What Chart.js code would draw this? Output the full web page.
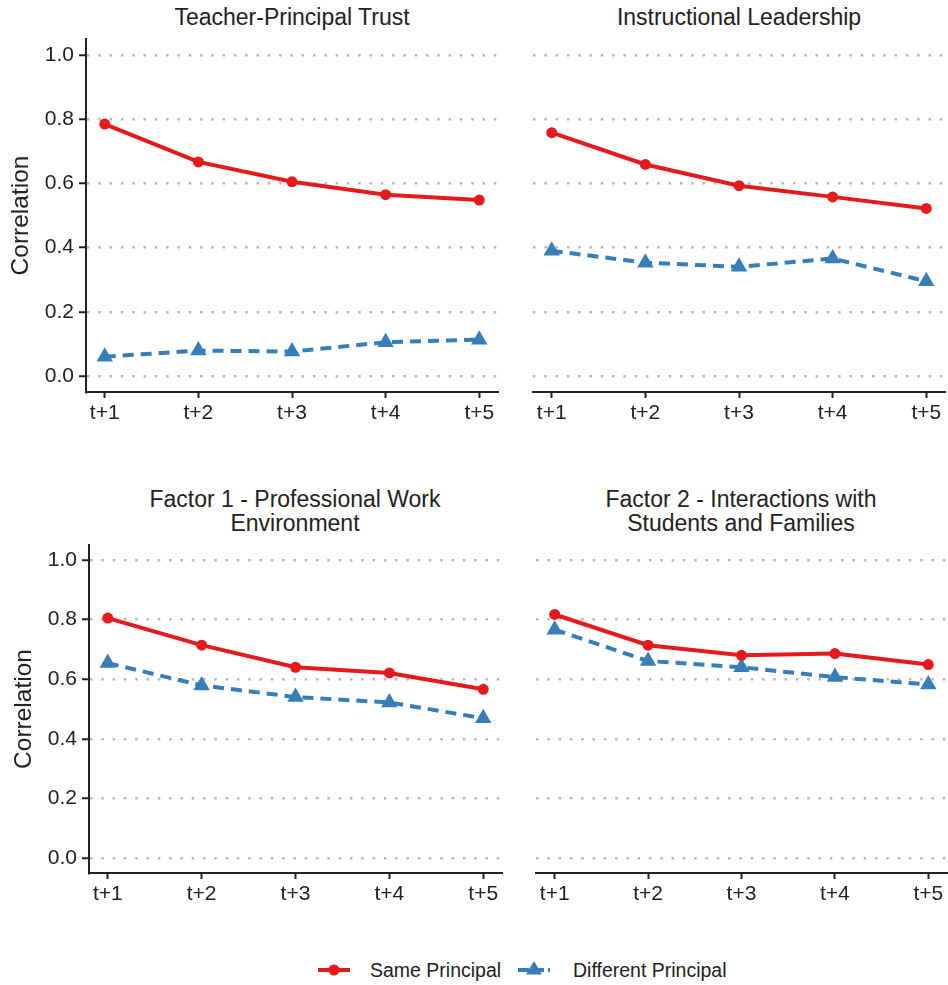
<!DOCTYPE html>
<html>
<head>
<meta charset="utf-8">
<script src="https://cdn.jsdelivr.net/npm/chart.js@4.4.1/dist/chart.umd.min.js"></script>
<style>
  body { margin: 0; background: #fff; width: 948px; height: 985px; position: relative; overflow: hidden;
         font-family: "Liberation Sans", Arial, sans-serif; }
  canvas { position: absolute; }
  .ttl { position: absolute; transform: translateX(-50%); text-align: center; white-space: nowrap;
         font-size: 23px; line-height: 24px; color: #222; }
  .leg { position: absolute; font-size: 19.5px; line-height: 22px; color: #222; white-space: nowrap; }
  svg { position: absolute; }
</style>
</head>
<body>
<div class="ttl" style="left:292px; top:5px;">Teacher-Principal Trust</div>
<div class="ttl" style="left:739px; top:5px;">Instructional Leadership</div>
<div class="ttl" style="left:295px; top:487px;">Factor 1 - Professional Work<br>Environment</div>
<div class="ttl" style="left:741px; top:487px;">Factor 2 - Interactions with<br>Students and Families</div>

<canvas id="c1" width="500" height="440" style="left:0; top:0;"></canvas>
<canvas id="c2" width="448" height="440" style="left:500px; top:0;"></canvas>
<canvas id="c3" width="504" height="440" style="left:0; top:480px;"></canvas>
<canvas id="c4" width="448" height="440" style="left:500px; top:480px;"></canvas>

<svg width="36" height="16" style="left:317px; top:962px;">
  <line x1="1" y1="8" x2="33" y2="8" stroke="#E41A1C" stroke-width="4"/>
  <circle cx="17" cy="8" r="5.5" fill="#E41A1C"/>
</svg>
<div class="leg" style="left:370px; top:959px;">Same Principal</div>
<svg width="36" height="20" style="left:517px; top:958px;">
  <line x1="1" y1="12" x2="33" y2="12" stroke="#377EB8" stroke-width="4" stroke-dasharray="11 4"/>
  <polygon points="17,3 25,16.6 9,16.6" fill="#377EB8"/>
</svg>
<div class="leg" style="left:573px; top:959px;">Different Principal</div>

<script>
const labels = ["t+1", "t+2", "t+3", "t+4", "t+5"];
const yTicks = [0, 0.2, 0.4, 0.6, 0.8, 1.0];
const seriesNames = ["Same Principal", "Different Principal"];

// Teacher-Principal Trust
const trustSame = [0.785, 0.667, 0.605, 0.565, 0.548];
const trustDiff = [0.060, 0.079, 0.076, 0.105, 0.113];
// Instructional Leadership
const leadSame = [0.758, 0.659, 0.593, 0.558, 0.522];
const leadDiff = [0.390, 0.353, 0.340, 0.366, 0.295];
// Factor 1 - Professional Work Environment
const f1Same = [0.805, 0.714, 0.640, 0.621, 0.566];
const f1Diff = [0.654, 0.579, 0.540, 0.522, 0.469];
// Factor 2 - Interactions with Students and Families
const f2Same = [0.817, 0.714, 0.680, 0.686, 0.649];
const f2Diff = [0.766, 0.661, 0.640, 0.607, 0.582];

const RED = "#E41A1C";
const BLUE = "#377EB8";
const INK = "#222";
const FONT = "'Liberation Sans', Arial, sans-serif";

function makeChart(id, same, diff, p) {
  const toPts = arr => arr.map((v, i) => ({ x: i + 1, y: v }));
  new Chart(document.getElementById(id), {
    type: "line",
    data: {
      datasets: [
        {
          label: seriesNames[0], data: toPts(same),
          borderColor: RED, backgroundColor: RED, borderWidth: 4,
          pointStyle: "circle", pointRadius: 5.5, pointBorderWidth: 0, tension: 0
        },
        {
          label: seriesNames[1], data: toPts(diff),
          borderColor: BLUE, backgroundColor: BLUE, borderWidth: 4, borderDash: [11, 7],
          pointStyle: "triangle", pointRadius: 9.5, pointBorderWidth: 0, tension: 0
        }
      ]
    },
    options: {
      responsive: false,
      animation: false,
      devicePixelRatio: 1,
      layout: { autoPadding: false, padding: { top: p.padTop, right: p.padRight, left: 0, bottom: 0 } },
      plugins: { legend: { display: false }, tooltip: { enabled: false }, title: { display: false } },
      scales: {
        x: {
          type: "linear", min: 0.8, max: 5.2,
          afterFit: s => { s.height = p.xh; s.paddingLeft = 0; s.paddingRight = 0; },
          afterBuildTicks: s => { s.ticks = labels.map((_, i) => ({ value: i + 1 })); },
          ticks: {
            callback: v => labels[v - 1], color: INK, padding: 3,
            font: { family: FONT, size: 21 }, autoSkip: false, maxRotation: 0
          },
          grid: { drawOnChartArea: false, drawTicks: true, tickLength: 6, tickWidth: 2, tickColor: INK },
          border: { display: true, color: INK, width: 2 }
        },
        y: {
          min: -0.05, max: 1.05,
          afterFit: s => { s.width = p.yw; s.paddingTop = 0; s.paddingBottom = 0; },
          afterBuildTicks: s => { s.ticks = yTicks.map(v => ({ value: v })); },
          ticks: {
            display: p.showY, callback: v => v.toFixed(1), color: INK, padding: 5,
            font: { family: FONT, size: 21 }
          },
          grid: {
            color: "#b8b8b8", lineWidth: 2.5, drawTicks: p.showY,
            tickLength: 7, tickWidth: 2, tickColor: INK, tickBorderDash: []
          },
          border: { display: p.showY, color: INK, width: 2, dash: [2.5, 8.8] },
          title: {
            display: p.showY, text: "Correlation", color: INK,
            font: { family: FONT, size: 24.5 }, padding: { top: p.titlePad, bottom: 0 }
          }
        }
      }
    }
  });
}

makeChart("c1", trustSame, trustDiff, { padTop: 39, padRight: 2, xh: 48, yw: 86, showY: true, titlePad: 7 });
makeChart("c2", leadSame, leadDiff, { padTop: 39, padRight: 3, xh: 48, yw: 33, showY: false, titlePad: 0 });
makeChart("c3", f1Same, f1Diff, { padTop: 65, padRight: 2, xh: 47, yw: 89, showY: true, titlePad: 10 });
makeChart("c4", f2Same, f2Diff, { padTop: 65, padRight: 1, xh: 47, yw: 36, showY: false, titlePad: 0 });
</script>
</body>
</html>
